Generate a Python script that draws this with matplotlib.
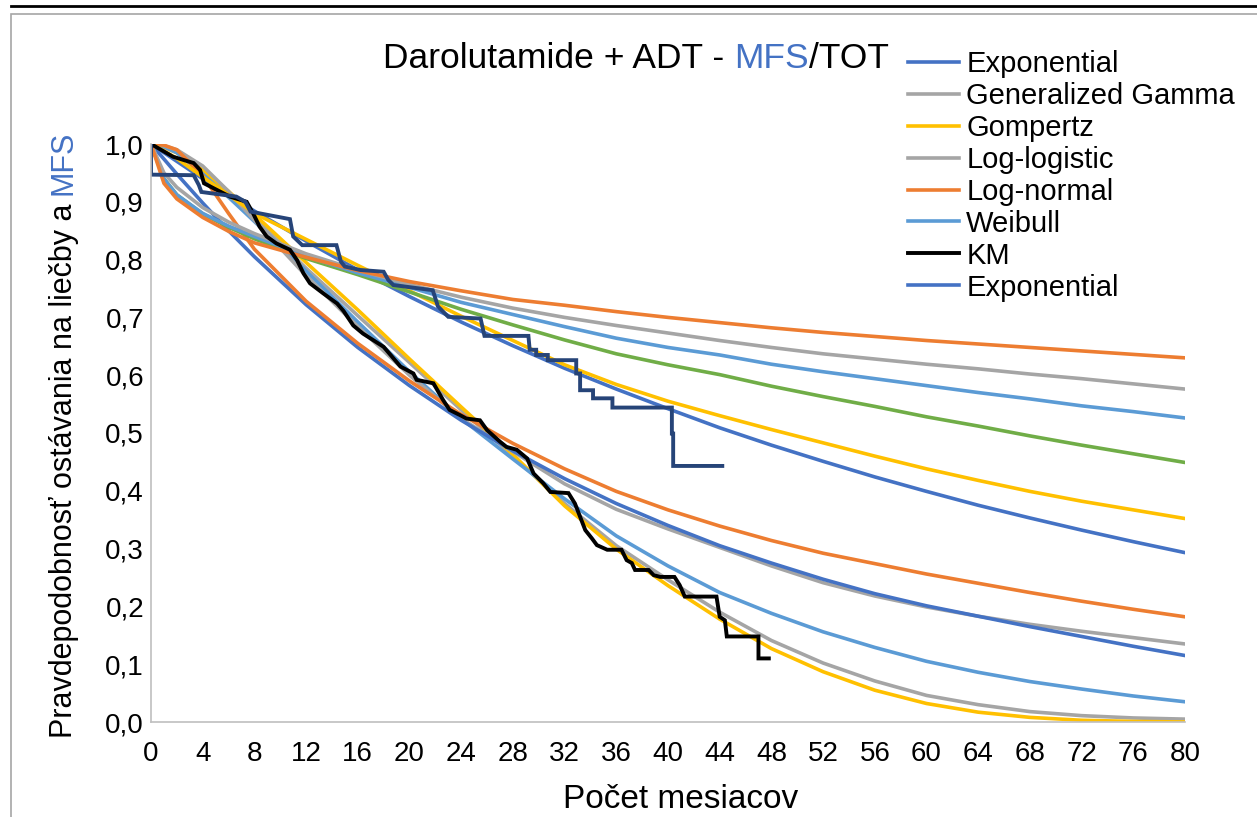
"""Survival extrapolation curves for MFS and time on treatment."""

import matplotlib

matplotlib.use("Agg")
import matplotlib.pyplot as plt  # noqa: E402
from matplotlib.lines import Line2D  # noqa: E402
from matplotlib.patches import Rectangle  # noqa: E402

plt.rcParams["font.family"] = ["Liberation Sans", "DejaVu Sans"]

# months at which the fitted curves were read
months = [0, 1, 2, 4, 6, 8, 12, 16, 20, 24, 28, 32, 36, 40, 44, 48, 52, 56, 60, 64, 68, 72, 76, 80]

# MFS parametric fits
mfs_exponential = [1.0, 0.985, 0.970, 0.940, 0.912, 0.884, 0.832, 0.782, 0.736, 0.692, 0.651, 0.612,
                   0.576, 0.542, 0.509, 0.479, 0.451, 0.424, 0.399, 0.375, 0.353, 0.332, 0.312, 0.293]
mfs_gompertz = [1.0, 0.988, 0.975, 0.943, 0.912, 0.880, 0.835, 0.790, 0.746, 0.702, 0.660, 0.618,
                0.584, 0.555, 0.530, 0.506, 0.483, 0.460, 0.438, 0.418, 0.399, 0.382, 0.367, 0.352]
mfs_green = [1.0, 0.940, 0.912, 0.879, 0.856, 0.836, 0.802, 0.774, 0.744, 0.714, 0.687, 0.661,
             0.637, 0.618, 0.601, 0.581, 0.563, 0.546, 0.528, 0.512, 0.495, 0.479, 0.464, 0.449]
mfs_weibull = [1.0, 0.940, 0.912, 0.880, 0.858, 0.840, 0.806, 0.777, 0.752, 0.726, 0.705, 0.684,
               0.664, 0.648, 0.635, 0.619, 0.606, 0.594, 0.582, 0.570, 0.559, 0.547, 0.537, 0.526]
mfs_loglogistic = [1.0, 0.950, 0.925, 0.890, 0.865, 0.845, 0.810, 0.782, 0.757, 0.735, 0.716, 0.700,
                   0.686, 0.673, 0.660, 0.648, 0.637, 0.628, 0.619, 0.611, 0.602, 0.594, 0.585, 0.576]
mfs_lognormal = [1.0, 0.932, 0.905, 0.873, 0.849, 0.829, 0.804, 0.781, 0.762, 0.746, 0.731, 0.721,
                 0.710, 0.700, 0.691, 0.682, 0.674, 0.667, 0.660, 0.654, 0.648, 0.642, 0.636, 0.630]

# TOT parametric fits
tot_exponential = [1.0, 0.974, 0.948, 0.898, 0.850, 0.805, 0.722, 0.648, 0.582, 0.522, 0.469, 0.421,
                   0.378, 0.340, 0.305, 0.275, 0.247, 0.222, 0.201, 0.183, 0.165, 0.148, 0.131, 0.115]
tot_lognormal = [1.0, 0.998, 0.990, 0.945, 0.880, 0.818, 0.728, 0.655, 0.590, 0.532, 0.482, 0.438,
                 0.399, 0.367, 0.339, 0.314, 0.292, 0.274, 0.256, 0.240, 0.224, 0.209, 0.195, 0.182]
tot_loglogistic = [1.0, 0.997, 0.990, 0.962, 0.918, 0.868, 0.772, 0.684, 0.600, 0.525, 0.468, 0.412,
                   0.368, 0.334, 0.302, 0.270, 0.241, 0.218, 0.199, 0.183, 0.169, 0.157, 0.146, 0.135]
tot_weibull = [1.0, 0.995, 0.985, 0.948, 0.908, 0.866, 0.780, 0.692, 0.606, 0.525, 0.455, 0.386,
               0.322, 0.270, 0.224, 0.188, 0.156, 0.129, 0.105, 0.086, 0.070, 0.057, 0.045, 0.035]
tot_gompertz = [1.0, 0.995, 0.985, 0.955, 0.918, 0.878, 0.795, 0.713, 0.628, 0.545, 0.463, 0.374,
                0.299, 0.236, 0.178, 0.127, 0.087, 0.055, 0.032, 0.017, 0.008, 0.003, 0.001, 0.0]
tot_gengamma = [1.0, 0.995, 0.985, 0.955, 0.915, 0.872, 0.785, 0.703, 0.622, 0.540, 0.460, 0.378,
                0.305, 0.246, 0.190, 0.141, 0.102, 0.071, 0.046, 0.030, 0.018, 0.011, 0.007, 0.005]

# Kaplan-Meier traces (month, survival)
km_mfs_t = [0, 0, 3.3, 3.7, 3.9, 6.6, 7.3, 7.7, 10.75, 11.0, 11.7, 14.35, 14.7, 15.0, 16.2, 18.0,
            18.35, 18.75, 21.8, 22.2, 23.0, 25.5, 25.8, 29.2, 29.3, 29.8, 29.8, 30.7, 30.7, 32.9,
            32.9, 33.2, 33.2, 34.2, 34.2, 35.7, 35.7, 40.3, 40.3, 40.4, 40.4, 44.2]
km_mfs_s = [1.0, 0.947, 0.946, 0.929, 0.917, 0.909, 0.900, 0.883, 0.870, 0.840, 0.825, 0.825, 0.796,
            0.788, 0.782, 0.779, 0.765, 0.756, 0.747, 0.719, 0.701, 0.698, 0.668, 0.668, 0.644,
            0.644, 0.635, 0.635, 0.626, 0.626, 0.603, 0.603, 0.574, 0.574, 0.560, 0.560, 0.544,
            0.544, 0.499, 0.499, 0.443, 0.443]
km_tot_t = [0, 1.7, 3.3, 3.8, 4.1, 6.1, 7.4, 7.9, 8.4, 8.95, 9.7, 10.75, 11.3, 11.8, 12.3, 13.3,
            14.4, 14.9, 15.65, 16.4, 18.0, 19.3, 20.3, 20.55, 21.85, 22.6, 23.1, 23.9, 24.4, 25.45,
            26.0, 27.0, 27.5, 28.3, 29.1, 29.6, 30.35, 30.9, 32.3, 32.8, 33.2, 33.6, 34.1, 34.5,
            35.3, 36.4, 36.8, 37.2, 37.45, 38.5, 38.9, 39.4, 40.5, 40.9, 41.3, 43.75, 44.0, 44.4,
            44.55, 47.0, 47.0, 47.8]
km_tot_s = [1.0, 0.978, 0.967, 0.955, 0.932, 0.909, 0.900, 0.880, 0.857, 0.840, 0.828, 0.817, 0.799,
            0.776, 0.759, 0.742, 0.724, 0.711, 0.686, 0.672, 0.649, 0.615, 0.603, 0.592, 0.586,
            0.557, 0.540, 0.531, 0.525, 0.522, 0.505, 0.485, 0.476, 0.471, 0.456, 0.430, 0.413,
            0.398, 0.396, 0.378, 0.355, 0.332, 0.318, 0.306, 0.298, 0.298, 0.280, 0.275, 0.263,
            0.263, 0.254, 0.251, 0.251, 0.237, 0.217, 0.217, 0.182, 0.176, 0.148, 0.148, 0.110,
            0.110]

x_ticks = list(range(0, 81, 4))
y_ticks = [0.0, 0.1, 0.2, 0.3, 0.4, 0.5, 0.6, 0.7, 0.8, 0.9, 1.0]

BLUE = "#4472C4"
ORANGE = "#ED7D31"
GRAY = "#A5A5A5"
YELLOW = "#FFC000"
LIGHT_BLUE = "#5B9BD5"
GREEN = "#70AD47"
NAVY = "#264478"
LW = 2.6

W, H = 1257, 817
fig = plt.figure(figsize=(W / 100, H / 100), dpi=100)
ax = fig.add_axes([151 / W, 95 / H, 1034 / W, 578 / H])

# outer chart frame and the rule above it
fig.add_artist(Rectangle((11 / W, -0.1), 1.2, (H - 14) / H + 0.1, transform=fig.transFigure,
                         fill=False, edgecolor="#A6A6A6", lw=1.2))
fig.add_artist(Line2D([11 / W, 1.0], [1 - 6 / H] * 2, transform=fig.transFigure,
                      color="black", lw=2.0))

h_tot_gg, = ax.plot(months, tot_gengamma, color=GRAY, lw=LW)
ax.plot(months, tot_gompertz, color=YELLOW, lw=LW)
ax.plot(months, tot_weibull, color=LIGHT_BLUE, lw=LW)
ax.plot(months, tot_loglogistic, color=GRAY, lw=LW)
h_tot_exp, = ax.plot(months, tot_exponential, color=BLUE, lw=LW)
ax.plot(months, tot_lognormal, color=ORANGE, lw=LW)

h_mfs_exp, = ax.plot(months, mfs_exponential, color=BLUE, lw=LW)
h_mfs_gomp, = ax.plot(months, mfs_gompertz, color=YELLOW, lw=LW)
ax.plot(months, mfs_green, color=GREEN, lw=LW)
h_mfs_weib, = ax.plot(months, mfs_weibull, color=LIGHT_BLUE, lw=LW)
h_mfs_ll, = ax.plot(months, mfs_loglogistic, color=GRAY, lw=LW)
h_mfs_ln, = ax.plot(months, mfs_lognormal, color=ORANGE, lw=LW)

h_km, = ax.plot(km_tot_t, km_tot_s, color="black", lw=2.8, solid_joinstyle="miter")
ax.plot(km_mfs_t, km_mfs_s, color=NAVY, lw=2.8, solid_joinstyle="miter")

ax.set_xlim(0, 80)
ax.set_ylim(0, 1.0)
ax.set_xticks(x_ticks)
ax.set_xticklabels([str(t) for t in x_ticks])
ax.set_yticks(y_ticks)
ax.set_yticklabels([f"{v:.1f}".replace(".", ",") for v in y_ticks])
ax.tick_params(length=0, labelsize=20)
ax.tick_params(axis="x", pad=14)
ax.tick_params(axis="y", pad=5)
for side in ("top", "right"):
    ax.spines[side].set_visible(False)
for side in ("left", "bottom"):
    ax.spines[side].set_color("#BFBFBF")
    ax.spines[side].set_linewidth(1.2)

fig.text(681 / W, 1 - 800 / H, "Počet mesiacov", fontsize=24, ha="center", va="center")

handles = [h_mfs_exp, h_tot_gg, h_mfs_gomp, h_mfs_ll, h_mfs_ln, h_mfs_weib, h_km, h_tot_exp]
labels = ["Exponential", "Generalized Gamma", "Gompertz", "Log-logistic", "Log-normal",
          "Weibull", "KM", "Exponential"]
fig.legend(handles, labels, loc="upper left", bbox_to_anchor=(908 / W, 1 - 50 / H),
           frameon=False, fontsize=21, handlelength=1.75, handletextpad=0.25,
           labelspacing=0.135, borderpad=0, borderaxespad=0)

# title with the MFS part highlighted
TITLE_FS = 25.5
title_y = 1 - 58 / H
t1 = fig.text(383 / W, title_y, "Darolutamide + ADT -", fontsize=TITLE_FS, va="center", ha="left")
t2 = fig.text(0, 0, "MFS", fontsize=TITLE_FS, color=BLUE, va="center", ha="left")
t3 = fig.text(0, 0, "/TOT", fontsize=TITLE_FS, va="center", ha="left")
fig.canvas.draw()
renderer = fig.canvas.get_renderer()
inv = fig.transFigure.inverted()
b1 = inv.transform_bbox(t1.get_window_extent(renderer))
space = 0.278 * TITLE_FS / 72 * 100 / W
t2.set_position((b1.x1 + space, title_y))
b2 = inv.transform_bbox(t2.get_window_extent(renderer))
t3.set_position((b2.x1, title_y))

# rotated y label, blue MFS at its end
YLAB_FS = 22
y1 = fig.text(64 / W, 1 - 738 / H, "Pravdepodobnosť ostávania na liečby a", fontsize=YLAB_FS,
              rotation=90, ha="center", va="bottom")
y2 = fig.text(64 / W, 0, "MFS", fontsize=YLAB_FS, color=BLUE, rotation=90, ha="center",
              va="bottom")
fig.canvas.draw()
by1 = inv.transform_bbox(y1.get_window_extent(renderer))
vspace = 0.278 * YLAB_FS / 72 * 100 / H
y2.set_position((64 / W, by1.y1 + vspace))

fig.savefig("out.png", dpi=100)
plt.close(fig)
